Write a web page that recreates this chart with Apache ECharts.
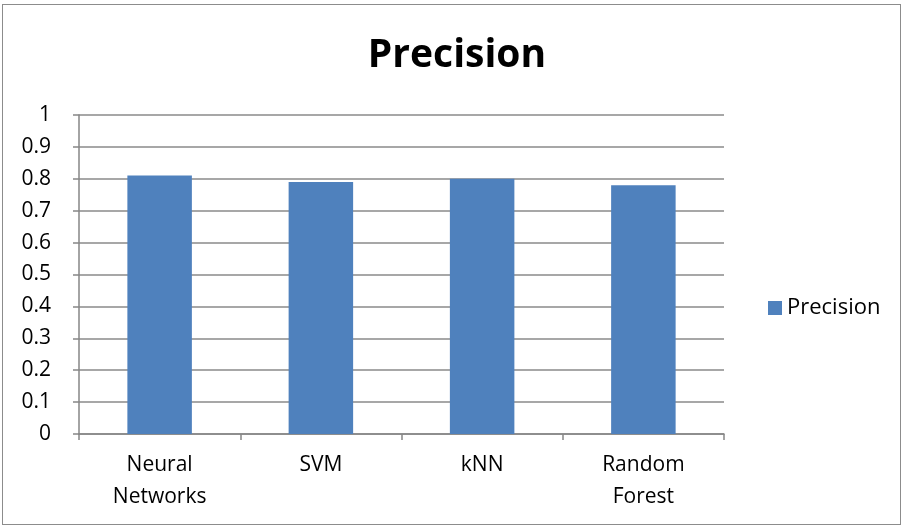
<!DOCTYPE html>
<html>
<head>
<meta charset="utf-8">
<script src="https://cdn.jsdelivr.net/npm/echarts@6/dist/echarts.min.js"></script>
<style>
  html, body { margin: 0; padding: 0; background: #fff; }
  #frame { position: absolute; left: 2px; top: 4px; width: 899px; height: 521px; border: 1px solid #8c8c8c; box-sizing: border-box; }
  #chart { position: absolute; left: 0; top: 0; width: 906px; height: 529px; }
</style>
</head>
<body>
<div id="frame"></div>
<div id="chart"></div>
<script>
// Precision per classifier
const categories = ['Neural\nNetworks', 'SVM', 'kNN', 'Random\nForest'];
const precision = [0.81, 0.79, 0.80, 0.78];
const seriesName = 'Precision';

const chart = echarts.init(document.getElementById('chart'), null, { renderer: 'canvas' });
const font = '"Open Sans", "Liberation Sans", sans-serif';

chart.setOption({
  animation: false,
  title: {
    text: 'Precision',
    left: 452,
    textAlign: 'center',
    top: 31,
    textStyle: { fontFamily: font, fontWeight: 'bold', fontSize: 39, color: '#000' }
  },
  legend: {
    data: [seriesName],
    icon: 'rect',
    left: 768,
    top: 297,
    padding: 0,
    itemWidth: 14,
    itemHeight: 14,
    itemGap: 6,
    textStyle: { fontFamily: font, fontSize: 22, color: '#000', padding: [0, 0, 0, 0] }
  },
  grid: { left: 79, right: 182, top: 115, bottom: 95 },
  xAxis: {
    type: 'category',
    data: categories,
    axisLine: { lineStyle: { color: '#868686', width: 1.5 } },
    axisTick: { show: true, length: 6, alignWithLabel: false, lineStyle: { color: '#868686', width: 1.5 } },
    axisLabel: { fontFamily: font, fontSize: 21, color: '#000', margin: 15, lineHeight: 32 }
  },
  yAxis: {
    type: 'value',
    min: 0,
    max: 1,
    interval: 0.1,
    axisLine: { show: true, lineStyle: { color: '#868686', width: 1.5 } },
    axisTick: { show: true, inside: false, length: 6, lineStyle: { color: '#868686', width: 1.5 } },
    splitLine: { lineStyle: { color: '#8a8a8a', width: 1.5 } },
    axisLabel: {
      fontFamily: font, fontSize: 21, color: '#000', margin: 28,
      formatter: v => String(Math.round(v * 10) / 10)
    }
  },
  series: [{
    name: seriesName,
    type: 'bar',
    data: precision,
    barWidth: '40%',
    itemStyle: { color: '#4f81bd' }
  }]
});
</script>
</body>
</html>
